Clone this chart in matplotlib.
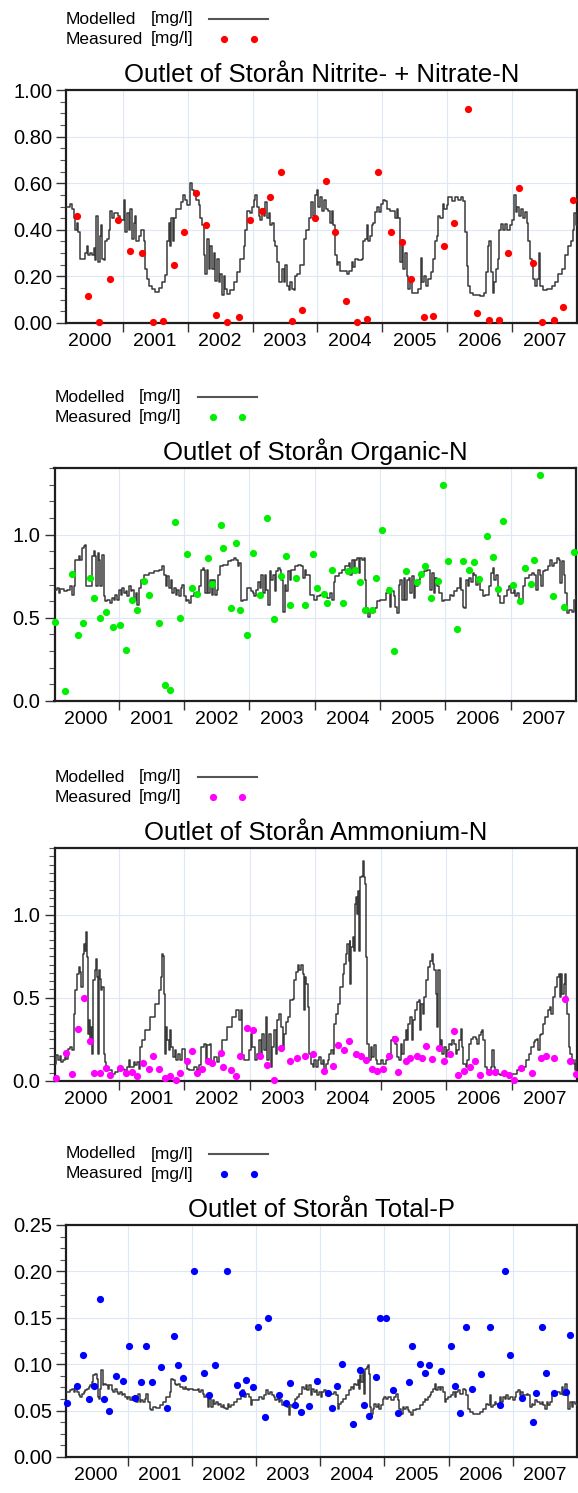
import matplotlib
matplotlib.use("Agg")
import matplotlib.pyplot as plt
from matplotlib.lines import Line2D
from matplotlib.ticker import MultipleLocator, FixedLocator, FixedFormatter, FormatStrFormatter, NullFormatter

plt.rcParams['font.family'] = ['Liberation Sans', 'DejaVu Sans']

# ---------------- data (decimal year, mg/l) ----------------
years = [2000, 2001, 2002, 2003, 2004, 2005, 2006, 2007]

no3_model = [
    (2000.133, 0.50), (2000.185, 0.51), (2000.221, 0.49), (2000.246, 0.45), (2000.272, 0.40),
    (2000.297, 0.43), (2000.313, 0.39), (2000.338, 0.275), (2000.374, 0.275), (2000.426, 0.30),
    (2000.451, 0.33), (2000.467, 0.29), (2000.503, 0.30), (2000.528, 0.29), (2000.554, 0.32),
    (2000.579, 0.27), (2000.595, 0.46), (2000.615, 0.26), (2000.646, 0.375), (2000.667, 0.42),
    (2000.682, 0.275), (2000.708, 0.27), (2000.733, 0.35), (2000.759, 0.36), (2000.785, 0.40),
    (2000.810, 0.48), (2000.836, 0.45), (2000.862, 0.47), (2000.923, 0.46), (2000.964, 0.44),
    (2001.015, 0.53), (2001.041, 0.39), (2001.067, 0.47), (2001.092, 0.40), (2001.118, 0.49),
    (2001.144, 0.36), (2001.169, 0.43), (2001.195, 0.46), (2001.210, 0.35), (2001.246, 0.375),
    (2001.287, 0.40), (2001.323, 0.35), (2001.349, 0.23), (2001.374, 0.19), (2001.400, 0.16),
    (2001.451, 0.146), (2001.503, 0.135), (2001.554, 0.15), (2001.605, 0.175), (2001.656, 0.205),
    (2001.682, 0.35), (2001.708, 0.43), (2001.723, 0.33), (2001.744, 0.45), (2001.774, 0.35),
    (2001.795, 0.45), (2001.826, 0.49), (2001.862, 0.49), (2001.897, 0.52), (2001.928, 0.55),
    (2001.964, 0.53), (2001.990, 0.505), (2002.031, 0.60), (2002.067, 0.57), (2002.092, 0.55),
    (2002.128, 0.53), (2002.169, 0.505), (2002.195, 0.45), (2002.221, 0.42), (2002.246, 0.29),
    (2002.272, 0.21), (2002.297, 0.36), (2002.323, 0.23), (2002.349, 0.33), (2002.374, 0.23),
    (2002.400, 0.30), (2002.426, 0.18), (2002.451, 0.275), (2002.477, 0.175), (2002.503, 0.21),
    (2002.528, 0.12), (2002.554, 0.20), (2002.579, 0.146), (2002.605, 0.125), (2002.656, 0.14),
    (2002.708, 0.175), (2002.759, 0.22), (2002.810, 0.275), (2002.862, 0.33), (2002.887, 0.40),
    (2002.913, 0.48), (2002.954, 0.47), (2002.990, 0.50), (2003.015, 0.53), (2003.041, 0.55),
    (2003.067, 0.50), (2003.092, 0.46), (2003.118, 0.44), (2003.144, 0.49), (2003.169, 0.46),
    (2003.195, 0.52), (2003.221, 0.45), (2003.246, 0.47), (2003.272, 0.42), (2003.297, 0.43),
    (2003.323, 0.35), (2003.349, 0.33), (2003.374, 0.26), (2003.400, 0.175), (2003.426, 0.175),
    (2003.451, 0.23), (2003.477, 0.175), (2003.503, 0.25), (2003.528, 0.16), (2003.554, 0.14),
    (2003.579, 0.175), (2003.605, 0.146), (2003.631, 0.14), (2003.656, 0.20), (2003.682, 0.21),
    (2003.733, 0.25), (2003.785, 0.36), (2003.826, 0.40), (2003.862, 0.45), (2003.897, 0.52),
    (2003.928, 0.46), (2003.964, 0.55), (2003.990, 0.57), (2004.015, 0.50), (2004.041, 0.54),
    (2004.067, 0.48), (2004.103, 0.53), (2004.133, 0.49), (2004.169, 0.48), (2004.195, 0.43),
    (2004.221, 0.48), (2004.246, 0.42), (2004.272, 0.29), (2004.297, 0.25), (2004.323, 0.26),
    (2004.349, 0.225), (2004.400, 0.225), (2004.451, 0.21), (2004.492, 0.225), (2004.528, 0.26),
    (2004.554, 0.24), (2004.579, 0.275), (2004.631, 0.27), (2004.682, 0.275), (2004.708, 0.35),
    (2004.733, 0.36), (2004.759, 0.42), (2004.785, 0.35), (2004.810, 0.375), (2004.836, 0.42),
    (2004.862, 0.43), (2004.887, 0.475), (2004.923, 0.50), (2004.954, 0.475), (2004.979, 0.51),
    (2005.015, 0.53), (2005.041, 0.525), (2005.077, 0.49), (2005.118, 0.48), (2005.159, 0.48),
    (2005.195, 0.45), (2005.221, 0.49), (2005.246, 0.45), (2005.272, 0.26), (2005.297, 0.33),
    (2005.323, 0.23), (2005.349, 0.30), (2005.374, 0.20), (2005.400, 0.146), (2005.426, 0.19),
    (2005.451, 0.13), (2005.503, 0.13), (2005.554, 0.146), (2005.590, 0.28), (2005.610, 0.175),
    (2005.641, 0.20), (2005.672, 0.16), (2005.708, 0.19), (2005.749, 0.22), (2005.785, 0.275),
    (2005.810, 0.35), (2005.836, 0.375), (2005.862, 0.46), (2005.887, 0.45), (2005.928, 0.51),
    (2005.954, 0.49), (2005.990, 0.505), (2006.015, 0.54), (2006.067, 0.525), (2006.118, 0.54),
    (2006.169, 0.53), (2006.210, 0.54), (2006.246, 0.525), (2006.272, 0.39), (2006.297, 0.245),
    (2006.323, 0.16), (2006.349, 0.13), (2006.400, 0.12), (2006.503, 0.118), (2006.564, 0.13),
    (2006.595, 0.22), (2006.621, 0.33), (2006.646, 0.35), (2006.672, 0.22), (2006.697, 0.13),
    (2006.723, 0.175), (2006.749, 0.23), (2006.774, 0.275), (2006.800, 0.40), (2006.826, 0.425),
    (2006.851, 0.40), (2006.887, 0.425), (2006.923, 0.40), (2006.964, 0.42), (2007.000, 0.44),
    (2007.026, 0.55), (2007.056, 0.475), (2007.077, 0.50), (2007.108, 0.46), (2007.128, 0.49),
    (2007.159, 0.45), (2007.195, 0.475), (2007.221, 0.43), (2007.246, 0.35), (2007.272, 0.275),
    (2007.297, 0.245), (2007.323, 0.19), (2007.349, 0.16), (2007.385, 0.19), (2007.415, 0.30),
    (2007.431, 0.16), (2007.467, 0.14), (2007.528, 0.146), (2007.605, 0.16), (2007.656, 0.175),
    (2007.708, 0.21), (2007.759, 0.23), (2007.810, 0.29), (2007.862, 0.33), (2007.897, 0.35),
    (2007.928, 0.40), (2007.949, 0.47), (2007.979, 0.42), (2008.010, 0.49),
]
no3_meas = [
    (2000.297, 0.46), (2000.467, 0.118), (2000.631, 0.006), (2000.810, 0.188), (2000.928, 0.44),
    (2001.118, 0.31), (2001.292, 0.30), (2001.467, 0.006), (2001.621, 0.01), (2001.785, 0.25),
    (2001.938, 0.39), (2002.123, 0.56), (2002.277, 0.42), (2002.431, 0.036), (2002.600, 0.006),
    (2002.790, 0.026), (2002.964, 0.44), (2003.149, 0.48), (2003.262, 0.54), (2003.441, 0.65),
    (2003.600, 0.01), (2003.769, 0.057), (2003.959, 0.45), (2004.138, 0.61), (2004.267, 0.39),
    (2004.436, 0.095), (2004.610, 0.006), (2004.764, 0.017), (2004.938, 0.65), (2005.128, 0.39),
    (2005.303, 0.347), (2005.436, 0.188), (2005.641, 0.026), (2005.774, 0.03), (2005.944, 0.33),
    (2006.103, 0.43), (2006.313, 0.92), (2006.451, 0.042), (2006.641, 0.014), (2006.795, 0.014),
    (2006.933, 0.30), (2007.097, 0.58), (2007.313, 0.258), (2007.451, 0.006), (2007.641, 0.013),
    (2007.779, 0.067), (2007.928, 0.53),
]

orgn_model = [
    (2000.026, 0.668), (2000.051, 0.678), (2000.077, 0.648), (2000.103, 0.672), (2000.154, 0.658),
    (2000.205, 0.668), (2000.256, 0.688), (2000.282, 0.638), (2000.308, 0.688), (2000.333, 0.849),
    (2000.385, 0.869), (2000.410, 0.849), (2000.436, 0.920), (2000.462, 0.930), (2000.487, 0.940),
    (2000.503, 0.688), (2000.538, 0.688), (2000.564, 0.688), (2000.590, 0.869), (2000.615, 0.899),
    (2000.641, 0.869), (2000.656, 0.688), (2000.677, 0.889), (2000.703, 0.849), (2000.718, 0.688),
    (2000.744, 0.879), (2000.769, 0.628), (2000.795, 0.598), (2000.821, 0.608), (2000.846, 0.608),
    (2000.872, 0.588), (2000.897, 0.618), (2000.923, 0.608), (2000.949, 0.638), (2000.974, 0.608),
    (2001.000, 0.668), (2001.026, 0.638), (2001.051, 0.678), (2001.077, 0.648), (2001.103, 0.658),
    (2001.128, 0.628), (2001.154, 0.688), (2001.179, 0.658), (2001.205, 0.668), (2001.231, 0.608),
    (2001.256, 0.648), (2001.282, 0.577), (2001.308, 0.678), (2001.333, 0.728), (2001.385, 0.759),
    (2001.462, 0.769), (2001.538, 0.779), (2001.615, 0.789), (2001.667, 0.809), (2001.692, 0.759),
    (2001.718, 0.688), (2001.744, 0.749), (2001.769, 0.678), (2001.795, 0.728), (2001.821, 0.648),
    (2001.846, 0.678), (2001.872, 0.638), (2001.897, 0.668), (2001.923, 0.628), (2001.949, 0.678),
    (2001.974, 0.698), (2002.000, 0.628), (2002.026, 0.598), (2002.051, 0.608), (2002.077, 0.588),
    (2002.103, 0.628), (2002.154, 0.648), (2002.205, 0.648), (2002.231, 0.688), (2002.256, 0.789),
    (2002.282, 0.799), (2002.308, 0.789), (2002.323, 0.648), (2002.344, 0.789), (2002.369, 0.648),
    (2002.395, 0.728), (2002.421, 0.638), (2002.446, 0.728), (2002.472, 0.638), (2002.497, 0.668),
    (2002.523, 0.759), (2002.549, 0.809), (2002.590, 0.819), (2002.667, 0.839), (2002.718, 0.849),
    (2002.769, 0.859), (2002.795, 0.849), (2002.821, 0.809), (2002.846, 0.829), (2002.872, 0.598),
    (2002.897, 0.608), (2002.923, 0.608), (2002.964, 0.678), (2003.000, 0.678), (2003.026, 0.658),
    (2003.051, 0.648), (2003.077, 0.628), (2003.103, 0.668), (2003.128, 0.718), (2003.154, 0.678),
    (2003.179, 0.759), (2003.205, 0.648), (2003.231, 0.759), (2003.256, 0.668), (2003.282, 0.577),
    (2003.308, 0.779), (2003.333, 0.728), (2003.359, 0.759), (2003.385, 0.658), (2003.410, 0.779),
    (2003.436, 0.799), (2003.462, 0.789), (2003.487, 0.728), (2003.513, 0.537), (2003.538, 0.698),
    (2003.564, 0.658), (2003.590, 0.779), (2003.615, 0.728), (2003.641, 0.789), (2003.692, 0.809),
    (2003.744, 0.819), (2003.795, 0.809), (2003.821, 0.738), (2003.846, 0.789), (2003.872, 0.759),
    (2003.934, 0.638), (2003.985, 0.608), (2004.036, 0.628), (2004.087, 0.638), (2004.138, 0.628),
    (2004.189, 0.618), (2004.240, 0.648), (2004.265, 0.608), (2004.291, 0.718), (2004.316, 0.749),
    (2004.367, 0.769), (2004.418, 0.789), (2004.469, 0.809), (2004.520, 0.829), (2004.546, 0.759),
    (2004.571, 0.849), (2004.597, 0.769), (2004.622, 0.849), (2004.648, 0.859), (2004.673, 0.769),
    (2004.699, 0.859), (2004.724, 0.849), (2004.750, 0.859), (2004.776, 0.728), (2004.791, 0.557),
    (2004.816, 0.507), (2004.842, 0.537), (2004.878, 0.537), (2004.929, 0.557), (2004.954, 0.598),
    (2005.005, 0.608), (2005.056, 0.608), (2005.097, 0.648), (2005.117, 0.678), (2005.148, 0.567),
    (2005.173, 0.658), (2005.209, 0.628), (2005.235, 0.567), (2005.260, 0.527), (2005.286, 0.698),
    (2005.311, 0.728), (2005.337, 0.608), (2005.362, 0.738), (2005.388, 0.608), (2005.413, 0.728),
    (2005.439, 0.738), (2005.464, 0.648), (2005.490, 0.749), (2005.515, 0.618), (2005.541, 0.688),
    (2005.577, 0.728), (2005.617, 0.769), (2005.668, 0.779), (2005.719, 0.789), (2005.745, 0.789),
    (2005.770, 0.668), (2005.796, 0.769), (2005.821, 0.648), (2005.847, 0.738), (2005.872, 0.688),
    (2005.898, 0.648), (2005.923, 0.648), (2005.949, 0.598), (2005.974, 0.608), (2006.026, 0.608),
    (2006.077, 0.638), (2006.102, 0.628), (2006.128, 0.658), (2006.179, 0.678), (2006.219, 0.738),
    (2006.240, 0.668), (2006.265, 0.567), (2006.291, 0.557), (2006.316, 0.728), (2006.342, 0.688),
    (2006.367, 0.738), (2006.393, 0.718), (2006.418, 0.769), (2006.444, 0.759), (2006.469, 0.698),
    (2006.495, 0.728), (2006.536, 0.668), (2006.577, 0.628), (2006.612, 0.638), (2006.663, 0.688),
    (2006.699, 0.769), (2006.724, 0.799), (2006.750, 0.728), (2006.776, 0.759), (2006.801, 0.628),
    (2006.832, 0.588), (2006.867, 0.588), (2006.903, 0.628), (2006.944, 0.668), (2006.980, 0.688),
    (2007.005, 0.648), (2007.046, 0.668), (2007.071, 0.628), (2007.097, 0.648), (2007.122, 0.608),
    (2007.158, 0.598), (2007.189, 0.688), (2007.224, 0.738), (2007.276, 0.759), (2007.327, 0.769),
    (2007.362, 0.759), (2007.393, 0.668), (2007.413, 0.789), (2007.444, 0.759), (2007.464, 0.688),
    (2007.495, 0.779), (2007.531, 0.789), (2007.566, 0.809), (2007.597, 0.849), (2007.633, 0.809),
    (2007.668, 0.829), (2007.709, 0.859), (2007.735, 0.849), (2007.760, 0.708), (2007.786, 0.839),
    (2007.811, 0.759), (2007.837, 0.648), (2007.862, 0.527), (2007.888, 0.547), (2007.939, 0.537),
    (2007.964, 0.608), (2008.005, 0.628),
]
orgn_meas = [
    (2000.026, 0.477), (2000.179, 0.058), (2000.282, 0.763), (2000.374, 0.396), (2000.451, 0.467),
    (2000.554, 0.740), (2000.626, 0.618), (2000.708, 0.497), (2000.800, 0.537), (2000.913, 0.447),
    (2001.015, 0.457), (2001.113, 0.308), (2001.205, 0.608), (2001.282, 0.547), (2001.379, 0.720),
    (2001.456, 0.638), (2001.610, 0.467), (2001.713, 0.099), (2001.790, 0.066), (2001.862, 1.076),
    (2001.938, 0.497), (2002.041, 0.881), (2002.118, 0.678), (2002.200, 0.640), (2002.364, 0.861),
    (2002.431, 0.702), (2002.559, 1.060), (2002.600, 0.922), (2002.718, 0.559), (2002.790, 0.950),
    (2002.856, 0.547), (2002.969, 0.398), (2003.062, 0.891), (2003.164, 0.638), (2003.272, 1.101),
    (2003.369, 0.493), (2003.482, 0.753), (2003.554, 0.869), (2003.626, 0.579), (2003.718, 0.740),
    (2003.851, 0.579), (2003.974, 0.881), (2004.041, 0.678), (2004.138, 0.640), (2004.194, 0.588),
    (2004.260, 0.789), (2004.434, 0.588), (2004.510, 0.781), (2004.622, 0.785), (2004.689, 0.716),
    (2004.776, 0.547), (2004.872, 0.547), (2004.944, 0.742), (2005.026, 1.026), (2005.133, 0.668),
    (2005.214, 0.300), (2005.393, 0.783), (2005.566, 0.716), (2005.628, 0.765), (2005.689, 0.813),
    (2005.776, 0.620), (2005.893, 0.720), (2005.959, 1.300), (2006.046, 0.841), (2006.179, 0.431),
    (2006.276, 0.841), (2006.357, 0.785), (2006.434, 0.833), (2006.510, 0.734), (2006.643, 0.994),
    (2006.735, 0.865), (2006.806, 0.672), (2006.878, 1.082), (2007.031, 0.694), (2007.148, 0.600),
    (2007.224, 0.801), (2007.316, 0.702), (2007.352, 0.847), (2007.454, 1.356), (2007.648, 0.628),
    (2007.816, 0.567), (2007.964, 0.895),
]

nh4_model = [
    (2000.031, 0.104), (2000.046, 0.154), (2000.071, 0.124), (2000.097, 0.148), (2000.122, 0.114),
    (2000.148, 0.124), (2000.173, 0.144), (2000.199, 0.134), (2000.224, 0.194), (2000.260, 0.204),
    (2000.286, 0.184), (2000.311, 0.404), (2000.337, 0.544), (2000.362, 0.644), (2000.388, 0.684),
    (2000.413, 0.654), (2000.429, 0.564), (2000.449, 0.764), (2000.464, 0.824), (2000.480, 0.784),
    (2000.495, 0.894), (2000.515, 0.744), (2000.526, 0.284), (2000.541, 0.364), (2000.556, 0.244),
    (2000.577, 0.324), (2000.597, 0.164), (2000.612, 0.604), (2000.633, 0.664), (2000.648, 0.734),
    (2000.668, 0.624), (2000.684, 0.164), (2000.704, 0.664), (2000.719, 0.614), (2000.735, 0.544),
    (2000.750, 0.564), (2000.770, 0.164), (2000.791, 0.114), (2000.811, 0.084), (2000.847, 0.064),
    (2000.898, 0.044), (2000.949, 0.054), (2000.985, 0.064), (2001.026, 0.074), (2001.077, 0.064),
    (2001.128, 0.084), (2001.153, 0.124), (2001.179, 0.084), (2001.230, 0.114), (2001.255, 0.094),
    (2001.281, 0.114), (2001.306, 0.074), (2001.332, 0.204), (2001.357, 0.244), (2001.408, 0.304),
    (2001.485, 0.384), (2001.561, 0.464), (2001.612, 0.544), (2001.638, 0.624), (2001.658, 0.764),
    (2001.673, 0.754), (2001.689, 0.524), (2001.704, 0.164), (2001.724, 0.324), (2001.740, 0.244),
    (2001.760, 0.184), (2001.781, 0.304), (2001.801, 0.204), (2001.832, 0.144), (2001.852, 0.184),
    (2001.878, 0.124), (2001.903, 0.164), (2001.934, 0.124), (2001.969, 0.194), (2002.005, 0.124),
    (2002.036, 0.074), (2002.071, 0.064), (2002.122, 0.064), (2002.148, 0.084), (2002.189, 0.064),
    (2002.224, 0.094), (2002.260, 0.204), (2002.301, 0.224), (2002.327, 0.124), (2002.352, 0.214),
    (2002.388, 0.224), (2002.413, 0.104), (2002.454, 0.144), (2002.495, 0.114), (2002.531, 0.164),
    (2002.582, 0.244), (2002.658, 0.324), (2002.735, 0.384), (2002.786, 0.424), (2002.821, 0.424),
    (2002.842, 0.364), (2002.862, 0.424), (2002.878, 0.154), (2002.913, 0.124), (2002.964, 0.124),
    (2002.990, 0.184), (2003.015, 0.284), (2003.041, 0.204), (2003.077, 0.124), (2003.117, 0.164),
    (2003.143, 0.244), (2003.168, 0.144), (2003.194, 0.284), (2003.219, 0.184), (2003.245, 0.384),
    (2003.270, 0.124), (2003.296, 0.284), (2003.321, 0.084), (2003.347, 0.204), (2003.372, 0.304),
    (2003.398, 0.164), (2003.423, 0.364), (2003.449, 0.404), (2003.474, 0.324), (2003.500, 0.204),
    (2003.526, 0.284), (2003.551, 0.354), (2003.587, 0.384), (2003.617, 0.484), (2003.653, 0.494),
    (2003.679, 0.604), (2003.704, 0.654), (2003.730, 0.694), (2003.755, 0.664), (2003.781, 0.694),
    (2003.806, 0.644), (2003.821, 0.424), (2003.842, 0.624), (2003.862, 0.584), (2003.883, 0.444),
    (2003.909, 0.164), (2003.934, 0.104), (2003.959, 0.084), (2003.985, 0.124), (2004.010, 0.084),
    (2004.036, 0.124), (2004.061, 0.144), (2004.086, 0.104), (2004.112, 0.124), (2004.137, 0.064),
    (2004.162, 0.104), (2004.188, 0.124), (2004.213, 0.164), (2004.239, 0.184), (2004.264, 0.164),
    (2004.289, 0.344), (2004.315, 0.404), (2004.340, 0.464), (2004.381, 0.564), (2004.416, 0.644),
    (2004.442, 0.704), (2004.467, 0.764), (2004.492, 0.824), (2004.508, 0.724), (2004.523, 0.844),
    (2004.533, 0.584), (2004.553, 0.804), (2004.569, 0.864), (2004.584, 0.784), (2004.604, 1.064),
    (2004.619, 1.104), (2004.635, 1.004), (2004.655, 1.144), (2004.675, 0.784), (2004.685, 1.224),
    (2004.711, 1.234), (2004.726, 1.324), (2004.746, 1.224), (2004.761, 1.184), (2004.777, 0.744),
    (2004.797, 0.224), (2004.822, 0.124), (2004.848, 0.204), (2004.873, 0.144), (2004.898, 0.214),
    (2004.924, 0.124), (2004.949, 0.104), (2005.000, 0.124), (2005.041, 0.104), (2005.076, 0.124),
    (2005.112, 0.164), (2005.152, 0.244), (2005.193, 0.264), (2005.218, 0.224), (2005.254, 0.144),
    (2005.279, 0.124), (2005.305, 0.224), (2005.330, 0.164), (2005.355, 0.244), (2005.381, 0.304),
    (2005.406, 0.244), (2005.421, 0.344), (2005.447, 0.384), (2005.472, 0.244), (2005.497, 0.364),
    (2005.523, 0.424), (2005.548, 0.474), (2005.584, 0.484), (2005.599, 0.304), (2005.619, 0.464),
    (2005.640, 0.404), (2005.660, 0.504), (2005.685, 0.604), (2005.721, 0.684), (2005.751, 0.724),
    (2005.777, 0.764), (2005.792, 0.704), (2005.812, 0.664), (2005.838, 0.524), (2005.853, 0.324),
    (2005.873, 0.664), (2005.888, 0.664), (2005.904, 0.204), (2005.924, 0.244), (2005.939, 0.164),
    (2005.964, 0.204), (2005.990, 0.144), (2006.015, 0.184), (2006.041, 0.224), (2006.066, 0.214),
    (2006.091, 0.244), (2006.117, 0.224), (2006.142, 0.164), (2006.168, 0.184), (2006.193, 0.244),
    (2006.218, 0.314), (2006.234, 0.204), (2006.259, 0.104), (2006.294, 0.084), (2006.320, 0.124),
    (2006.345, 0.224), (2006.371, 0.254), (2006.411, 0.264), (2006.447, 0.254), (2006.472, 0.224),
    (2006.497, 0.274), (2006.523, 0.294), (2006.548, 0.304), (2006.563, 0.244), (2006.584, 0.084),
    (2006.614, 0.064), (2006.650, 0.054), (2006.675, 0.084), (2006.701, 0.184), (2006.726, 0.084),
    (2006.751, 0.064), (2006.787, 0.044), (2006.827, 0.034), (2006.878, 0.044), (2006.929, 0.034),
    (2006.980, 0.044), (2007.030, 0.044), (2007.081, 0.064), (2007.132, 0.064), (2007.183, 0.084),
    (2007.223, 0.124), (2007.259, 0.164), (2007.299, 0.204), (2007.335, 0.234), (2007.360, 0.244),
    (2007.386, 0.254), (2007.406, 0.184), (2007.426, 0.274), (2007.447, 0.284), (2007.477, 0.344),
    (2007.513, 0.384), (2007.548, 0.424), (2007.579, 0.444), (2007.599, 0.404), (2007.629, 0.504),
    (2007.665, 0.564), (2007.690, 0.624), (2007.716, 0.644), (2007.741, 0.504), (2007.751, 0.644),
    (2007.772, 0.524), (2007.792, 0.584), (2007.807, 0.644), (2007.822, 0.504), (2007.843, 0.404),
    (2007.868, 0.204), (2007.893, 0.164), (2007.919, 0.124), (2007.944, 0.104), (2007.970, 0.064),
    (2007.985, 0.124),
]
nh4_meas = [
    (2000.041, 0.018), (2000.189, 0.170), (2000.291, 0.040), (2000.378, 0.310), (2000.464, 0.498),
    (2000.556, 0.238), (2000.628, 0.050), (2000.709, 0.050), (2000.806, 0.078), (2000.872, 0.038),
    (2001.015, 0.078), (2001.112, 0.050), (2001.204, 0.054), (2001.286, 0.028), (2001.378, 0.108),
    (2001.459, 0.070), (2001.520, 0.148), (2001.612, 0.070), (2001.714, 0.018), (2001.786, 0.030),
    (2001.867, 0.004), (2001.939, 0.050), (2002.036, 0.118), (2002.117, 0.180), (2002.194, 0.046),
    (2002.270, 0.070), (2002.357, 0.118), (2002.423, 0.110), (2002.556, 0.170), (2002.597, 0.082),
    (2002.709, 0.064), (2002.786, 0.030), (2002.857, 0.148), (2002.959, 0.318), (2003.056, 0.308),
    (2003.153, 0.148), (2003.270, 0.098), (2003.372, 0.008), (2003.480, 0.200), (2003.622, 0.120),
    (2003.714, 0.138), (2003.847, 0.148), (2003.964, 0.160), (2004.137, 0.058), (2004.264, 0.092),
    (2004.350, 0.218), (2004.442, 0.188), (2004.518, 0.238), (2004.629, 0.160), (2004.695, 0.150),
    (2004.782, 0.128), (2004.873, 0.070), (2004.949, 0.062), (2005.036, 0.074), (2005.132, 0.150),
    (2005.213, 0.250), (2005.269, 0.052), (2005.386, 0.120), (2005.442, 0.140), (2005.558, 0.150),
    (2005.635, 0.140), (2005.685, 0.210), (2005.777, 0.130), (2005.888, 0.200), (2005.964, 0.120),
    (2006.051, 0.160), (2006.112, 0.300), (2006.178, 0.034), (2006.274, 0.060), (2006.355, 0.084),
    (2006.431, 0.120), (2006.508, 0.038), (2006.650, 0.054), (2006.736, 0.052), (2006.878, 0.050),
    (2006.959, 0.038), (2007.030, 0.008), (2007.142, 0.078), (2007.310, 0.050), (2007.452, 0.138),
    (2007.523, 0.148), (2007.650, 0.140), (2007.807, 0.490), (2007.883, 0.120), (2007.975, 0.044),
]

totp_model = [
    (2000.046, 0.0701), (2000.082, 0.0701), (2000.108, 0.0719), (2000.134, 0.0737), (2000.160, 0.0701),
    (2000.186, 0.0755), (2000.211, 0.0701), (2000.237, 0.0665), (2000.263, 0.0647), (2000.289, 0.0683),
    (2000.314, 0.0701), (2000.340, 0.0719), (2000.366, 0.0737), (2000.392, 0.0755), (2000.418, 0.0773),
    (2000.443, 0.0809), (2000.469, 0.0881), (2000.495, 0.0899), (2000.521, 0.0845), (2000.536, 0.0647),
    (2000.557, 0.0629), (2000.572, 0.0737), (2000.593, 0.0935), (2000.613, 0.0773), (2000.634, 0.0791),
    (2000.665, 0.0773), (2000.691, 0.0737), (2000.716, 0.0773), (2000.753, 0.0719), (2000.778, 0.0701),
    (2000.804, 0.0737), (2000.830, 0.0701), (2000.856, 0.0683), (2000.881, 0.0701), (2000.907, 0.0665),
    (2000.933, 0.0683), (2000.959, 0.0647), (2000.985, 0.0629), (2001.010, 0.0647), (2001.036, 0.0611),
    (2001.062, 0.0647), (2001.088, 0.0611), (2001.113, 0.0629), (2001.139, 0.0594), (2001.165, 0.0683),
    (2001.191, 0.0594), (2001.216, 0.0611), (2001.242, 0.0594), (2001.268, 0.0629), (2001.294, 0.0683),
    (2001.314, 0.0594), (2001.345, 0.0522), (2001.371, 0.0504), (2001.397, 0.0540), (2001.448, 0.0529),
    (2001.500, 0.0558), (2001.552, 0.0594), (2001.603, 0.0647), (2001.655, 0.0701), (2001.680, 0.0845),
    (2001.706, 0.0827), (2001.732, 0.0791), (2001.758, 0.0773), (2001.784, 0.0791), (2001.809, 0.0755),
    (2001.835, 0.0755), (2001.861, 0.0737), (2001.887, 0.0755), (2001.912, 0.0737), (2001.938, 0.0719),
    (2001.964, 0.0737), (2002.015, 0.0719), (2002.067, 0.0719), (2002.093, 0.0737), (2002.119, 0.0701),
    (2002.144, 0.0719), (2002.170, 0.0683), (2002.196, 0.0647), (2002.222, 0.0665), (2002.247, 0.0540),
    (2002.273, 0.0629), (2002.299, 0.0540), (2002.325, 0.0611), (2002.351, 0.0576), (2002.376, 0.0594),
    (2002.402, 0.0558), (2002.428, 0.0576), (2002.454, 0.0540), (2002.479, 0.0558), (2002.505, 0.0529),
    (2002.531, 0.0522), (2002.557, 0.0576), (2002.582, 0.0540), (2002.608, 0.0558), (2002.660, 0.0594),
    (2002.711, 0.0629), (2002.763, 0.0665), (2002.789, 0.0719), (2002.814, 0.0647), (2002.840, 0.0683),
    (2002.892, 0.0647), (2002.918, 0.0558), (2002.943, 0.0611), (2002.995, 0.0611), (2003.046, 0.0647),
    (2003.098, 0.0629), (2003.124, 0.0665), (2003.160, 0.0719), (2003.191, 0.0683), (2003.211, 0.0701),
    (2003.242, 0.0665), (2003.278, 0.0647), (2003.304, 0.0611), (2003.330, 0.0629), (2003.356, 0.0594),
    (2003.381, 0.0611), (2003.407, 0.0558), (2003.433, 0.0594), (2003.459, 0.0594), (2003.485, 0.0540),
    (2003.510, 0.0450), (2003.536, 0.0558), (2003.562, 0.0540), (2003.588, 0.0576), (2003.613, 0.0629),
    (2003.639, 0.0647), (2003.665, 0.0683), (2003.724, 0.0755), (2003.750, 0.0737), (2003.776, 0.0773),
    (2003.802, 0.0719), (2003.828, 0.0773), (2003.854, 0.0665), (2003.880, 0.0737), (2003.906, 0.0701),
    (2003.932, 0.0719), (2003.958, 0.0665), (2003.984, 0.0701), (2004.010, 0.0647), (2004.036, 0.0701),
    (2004.063, 0.0719), (2004.089, 0.0665), (2004.115, 0.0701), (2004.141, 0.0683), (2004.193, 0.0683),
    (2004.219, 0.0701), (2004.245, 0.0665), (2004.271, 0.0522), (2004.297, 0.0576), (2004.323, 0.0594),
    (2004.349, 0.0629), (2004.401, 0.0665), (2004.453, 0.0719), (2004.479, 0.0755), (2004.505, 0.0737),
    (2004.531, 0.0791), (2004.557, 0.0773), (2004.583, 0.0827), (2004.599, 0.0737), (2004.620, 0.0881),
    (2004.641, 0.0809), (2004.661, 0.0917), (2004.688, 0.0683), (2004.703, 0.0953), (2004.724, 0.0971),
    (2004.740, 0.0989), (2004.755, 0.0899), (2004.776, 0.0540), (2004.792, 0.0468), (2004.818, 0.0522),
    (2004.844, 0.0576), (2004.870, 0.0540), (2004.896, 0.0576), (2004.922, 0.0522), (2004.948, 0.0558),
    (2004.974, 0.0629), (2005.000, 0.0647), (2005.026, 0.0629), (2005.052, 0.0647), (2005.104, 0.0611),
    (2005.156, 0.0647), (2005.182, 0.0683), (2005.208, 0.0611), (2005.234, 0.0522), (2005.260, 0.0468),
    (2005.286, 0.0540), (2005.313, 0.0522), (2005.339, 0.0540), (2005.365, 0.0504), (2005.391, 0.0486),
    (2005.417, 0.0450), (2005.443, 0.0504), (2005.495, 0.0522), (2005.547, 0.0558), (2005.599, 0.0594),
    (2005.625, 0.0629), (2005.651, 0.0611), (2005.677, 0.0647), (2005.703, 0.0665), (2005.729, 0.0701),
    (2005.755, 0.0737), (2005.781, 0.0791), (2005.807, 0.0719), (2005.833, 0.0755), (2005.859, 0.0719),
    (2005.885, 0.0755), (2005.911, 0.0701), (2005.938, 0.0594), (2005.964, 0.0629), (2005.990, 0.0647),
    (2006.016, 0.0647), (2006.042, 0.0665), (2006.068, 0.0701), (2006.094, 0.0647), (2006.120, 0.0701),
    (2006.146, 0.0719), (2006.172, 0.0683), (2006.224, 0.0737), (2006.250, 0.0719), (2006.276, 0.0665),
    (2006.302, 0.0522), (2006.328, 0.0486), (2006.380, 0.0468), (2006.432, 0.0468), (2006.484, 0.0486),
    (2006.536, 0.0522), (2006.589, 0.0576), (2006.615, 0.0558), (2006.641, 0.0665), (2006.667, 0.0540),
    (2006.693, 0.0558), (2006.719, 0.0594), (2006.745, 0.0576), (2006.771, 0.0558), (2006.797, 0.0647),
    (2006.823, 0.0594), (2006.849, 0.0647), (2006.875, 0.0629), (2006.901, 0.0665), (2006.927, 0.0629),
    (2006.953, 0.0647), (2007.005, 0.0611), (2007.031, 0.0647), (2007.057, 0.0701), (2007.083, 0.0719),
    (2007.109, 0.0665), (2007.135, 0.0701), (2007.161, 0.0665), (2007.214, 0.0683), (2007.240, 0.0665),
    (2007.266, 0.0540), (2007.292, 0.0576), (2007.318, 0.0558), (2007.344, 0.0611), (2007.370, 0.0594),
    (2007.396, 0.0594), (2007.422, 0.0576), (2007.448, 0.0594), (2007.474, 0.0558), (2007.500, 0.0522),
    (2007.526, 0.0594), (2007.552, 0.0558), (2007.578, 0.0594), (2007.604, 0.0665), (2007.630, 0.0683),
    (2007.656, 0.0665), (2007.682, 0.0701), (2007.708, 0.0701), (2007.734, 0.0683), (2007.760, 0.0755),
    (2007.786, 0.0665), (2007.813, 0.0791), (2007.839, 0.0701), (2007.865, 0.0522), (2007.891, 0.0594),
    (2007.917, 0.0540), (2007.943, 0.0594), (2007.969, 0.0576), (2007.995, 0.0558),
]
totp_meas = [
    (2000.057, 0.058), (2000.206, 0.076), (2000.304, 0.110), (2000.397, 0.062), (2000.474, 0.076),
    (2000.567, 0.170), (2000.639, 0.062), (2000.716, 0.050), (2000.814, 0.087), (2000.933, 0.082),
    (2001.021, 0.120), (2001.119, 0.064), (2001.216, 0.081), (2001.289, 0.120), (2001.387, 0.081),
    (2001.526, 0.097), (2001.619, 0.053), (2001.716, 0.130), (2001.784, 0.099), (2001.866, 0.085),
    (2002.036, 0.200), (2002.191, 0.091), (2002.273, 0.067), (2002.361, 0.099), (2002.546, 0.200),
    (2002.706, 0.078), (2002.778, 0.069), (2002.840, 0.083), (2002.954, 0.075), (2003.036, 0.140),
    (2003.139, 0.043), (2003.180, 0.150), (2003.351, 0.067), (2003.464, 0.058), (2003.531, 0.080),
    (2003.603, 0.056), (2003.696, 0.048), (2003.830, 0.055), (2003.943, 0.082), (2004.125, 0.069),
    (2004.188, 0.053), (2004.255, 0.076), (2004.339, 0.100), (2004.505, 0.036), (2004.620, 0.094),
    (2004.682, 0.056), (2004.760, 0.044), (2004.870, 0.086), (2004.932, 0.150), (2005.026, 0.150),
    (2005.130, 0.072), (2005.208, 0.047), (2005.391, 0.081), (2005.432, 0.120), (2005.552, 0.100),
    (2005.630, 0.090), (2005.688, 0.099), (2005.885, 0.093), (2006.042, 0.120), (2006.104, 0.076),
    (2006.177, 0.047), (2006.276, 0.140), (2006.359, 0.073), (2006.510, 0.089), (2006.646, 0.140),
    (2006.802, 0.056), (2006.880, 0.200), (2006.953, 0.110), (2007.146, 0.064), (2007.313, 0.038),
    (2007.354, 0.069), (2007.453, 0.140), (2007.516, 0.091), (2007.646, 0.069), (2007.823, 0.070),
    (2007.896, 0.131),
]

panels = [
    # title, model, measured, colour, ylim, major, minor, fmt, xlim, axes box in px (left, top, right, bottom)
    ("Outlet of Storån Nitrite- + Nitrate-N", no3_model, no3_meas, "#ff0000",
     (0, 1.0), 0.2, 0.05, "%.2f", (2000.127, 2007.997), (66, 90, 577, 323)),
    ("Outlet of Storån Organic-N", orgn_model, orgn_meas, "#00ee00",
     (0, 1.4), 0.5, 0.1, "%.1f", (2000.015, 2008.0), (54.5, 468, 576, 701)),
    ("Outlet of Storån Ammonium-N", nh4_model, nh4_meas, "#ff00ff",
     (0, 1.4), 0.5, 0.05, "%.1f", (2000.020, 2007.995), (54.5, 848, 577, 1081)),
    ("Outlet of Storån Total-P", totp_model, totp_meas, "#0000ff",
     (0, 0.25), 0.05, 0.0125, "%.2f", (2000.041, 2008.0), (66, 1225, 577, 1457)),
]

W, H = 578, 1493
fig = plt.figure(figsize=(W / 100, H / 100), dpi=100)
line_col = "#3a3a3a"
grid_col = "#dde8f6"

for title, model, meas, col, ylim, major, minor, fmt, xlim, box in panels:
    l, t, r, b = box
    ax = fig.add_axes([l / W, 1 - b / H, (r - l) / W, (b - t) / H])
    mt, mv = zip(*model)
    st, sv = zip(*meas)
    ax.plot(mt, mv, color=line_col, lw=1.1, drawstyle="steps-post", zorder=3)
    ax.plot(st, sv, "o", color=col, ms=5.2, mec="none", zorder=4, clip_on=False)
    ax.set_xlim(*xlim)
    ax.set_ylim(*ylim)

    ax.xaxis.set_major_locator(FixedLocator(years[1:]))
    ax.xaxis.set_major_formatter(NullFormatter())
    ax.xaxis.set_minor_locator(FixedLocator([y + 0.5 for y in years]))
    ax.xaxis.set_minor_formatter(FixedFormatter([str(y) for y in years]))
    ax.tick_params(axis="x", which="major", direction="out", length=6.5, width=1.0, color="#333")
    ax.tick_params(axis="x", which="minor", length=0, pad=7, labelsize=14)

    ax.yaxis.set_major_locator(MultipleLocator(major))
    ax.yaxis.set_minor_locator(MultipleLocator(minor))
    ax.yaxis.set_major_formatter(FormatStrFormatter(fmt))
    ax.tick_params(axis="y", which="major", direction="out", length=7, width=1.0, color="#333",
                   labelsize=14.5, pad=3)
    ax.tick_params(axis="y", which="minor", direction="out", length=4.5, width=0.8, color="#555")

    ax.grid(True, which="major", color=grid_col, lw=0.8)
    ax.set_axisbelow(True)
    for s in ax.spines.values():
        s.set_linewidth(1.6)
        s.set_color("#1e1e1e")
    ax.set_title(title, fontsize=18.5, pad=6)

    # legend block above the panel
    y1 = t - 71
    y2 = t - 51
    fig.text(l / W, 1 - y1 / H, "Modelled", fontsize=12.5, va="center", ha="left")
    fig.text((l + 84.5) / W, 1 - y1 / H, "[mg/l]", fontsize=12.5, va="center", ha="left")
    fig.text(l / W, 1 - y2 / H, "Measured", fontsize=12.5, va="center", ha="left")
    fig.text((l + 84.5) / W, 1 - y2 / H, "[mg/l]", fontsize=12.5, va="center", ha="left")
    fig.add_artist(Line2D([(l + 143.4) / W, (l + 202.3) / W], [1 - y1 / H, 1 - y1 / H],
                          color="#555555", lw=1.5, transform=fig.transFigure))
    fig.add_artist(Line2D([(l + 158) / W, (l + 187.6) / W], [1 - y2 / H, 1 - y2 / H],
                          ls="none", marker="o", ms=5.2, mec="none", color=col,
                          transform=fig.transFigure))

fig.savefig("out.png", dpi=100)
